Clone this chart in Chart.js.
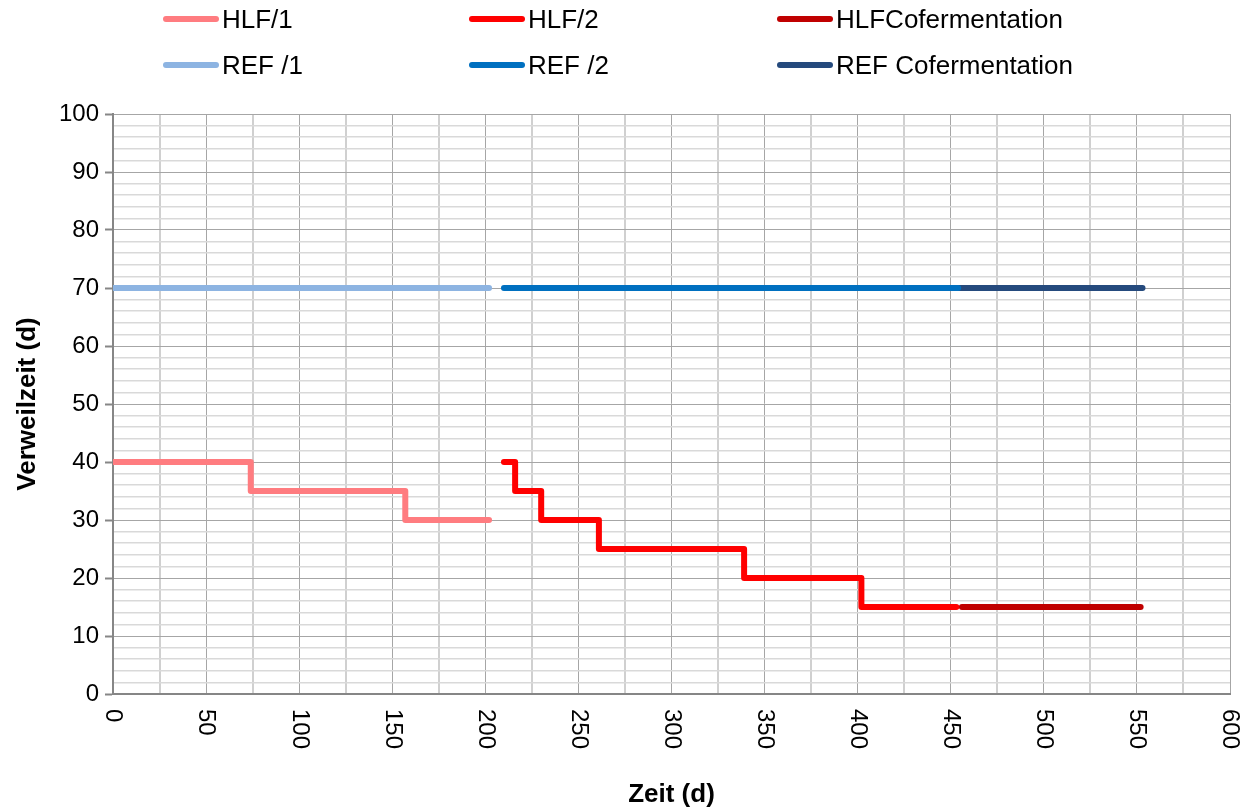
<!DOCTYPE html>
<html>
<head>
<meta charset="utf-8">
<script src="https://cdn.jsdelivr.net/npm/chart.js@4"></script>
<style>
  html, body { margin: 0; padding: 0; background: #fff; }
  #wrap { position: relative; width: 1255px; height: 809px; }
  #legend { position: absolute; left: 0; top: 0; width: 1255px; height: 100px; font-family: "Liberation Sans", Arial, sans-serif; font-size: 26px; color: #000; }
  .item { position: absolute; height: 30px; line-height: 30px; white-space: nowrap; }
  .item span.swatch { position: absolute; left: 0; top: 12px; width: 56px; height: 6px; border-radius: 3px; }
  .item span.txt { position: absolute; left: 59px; top: 0; }
</style>
</head>
<body>
<div id="wrap">
  <canvas id="chart" width="1255" height="809"></canvas>
  <div id="legend"></div>
</div>
<script>
// Series data (days / residence time in days)
const seriesNames = ['HLF/1', 'HLF/2', 'HLFCofermentation', 'REF /1', 'REF /2', 'REF Cofermentation'];
const seriesColors = ['#ff7c80', '#ff0000', '#c00000', '#8db4e2', '#0070c0', '#254a7d'];

const hlf1Days = [0, 74, 74, 157, 157, 202];
const hlf1Values = [40, 40, 35, 35, 30, 30];
const hlf2Days = [210, 216, 216, 230, 230, 261, 261, 339, 339, 402, 402, 453];
const hlf2Values = [40, 40, 35, 35, 30, 30, 25, 25, 20, 20, 15, 15];
const hlfCoDays = [456, 552];
const hlfCoValues = [15, 15];
const ref1Days = [0, 202];
const ref1Values = [70, 70];
const ref2Days = [210, 454];
const ref2Values = [70, 70];
const refCoDays = [454, 553];
const refCoValues = [70, 70];

const xTickLabels = [0, 50, 100, 150, 200, 250, 300, 350, 400, 450, 500, 550, 600];
const yTickLabels = [0, 10, 20, 30, 40, 50, 60, 70, 80, 90, 100];

function toPoints(xs, ys) {
    return xs.map((x, i) => ({ x: x, y: ys[i] }));
}

const allDays = [hlf1Days, hlf2Days, hlfCoDays, ref1Days, ref2Days, refCoDays];
const allValues = [hlf1Values, hlf2Values, hlfCoValues, ref1Values, ref2Values, refCoValues];

// Draw order: REF lines first, then HLF lines
const order = [3, 4, 5, 0, 1, 2];
const datasets = order.map(i => ({
    label: seriesNames[i],
    data: toPoints(allDays[i], allValues[i]),
    borderColor: seriesColors[i],
    backgroundColor: seriesColors[i],
    borderWidth: 6,
    borderCapStyle: 'round',
    borderJoinStyle: 'round',
    pointRadius: 0,
    tension: 0,
    fill: false
}));

// HTML legend, 3 columns x 2 rows
const legendPos = [[163, 4], [469, 4], [777, 4], [163, 50], [469, 50], [777, 50]];
const legendEl = document.getElementById('legend');
seriesNames.forEach((name, i) => {
    const d = document.createElement('div');
    d.className = 'item';
    d.style.left = legendPos[i][0] + 'px';
    d.style.top = legendPos[i][1] + 'px';
    d.innerHTML = '<span class="swatch" style="background:' + seriesColors[i] + '"></span><span class="txt">' + name + '</span>';
    legendEl.appendChild(d);
});

const fontFamily = '"Liberation Sans", Arial, sans-serif';

// Rotated x labels and axis titles
const textPlugin = {
    id: 'textPlugin',
    afterDraw(chart) {
        const c = chart.ctx;
        const xs = chart.scales.x;
        const ys = chart.scales.y;
        c.save();
        c.fillStyle = '#000';
        c.font = '24px ' + fontFamily;
        xTickLabels.forEach(v => {
            const px = xs.getPixelForValue(v);
            c.save();
            c.translate(px, ys.bottom + 15);
            c.rotate(Math.PI / 2);
            c.textAlign = 'left';
            c.textBaseline = 'middle';
            c.fillText(String(v), 0, 0);
            c.restore();
        });
        c.font = 'bold 26px ' + fontFamily;
        c.textAlign = 'center';
        c.textBaseline = 'middle';
        c.fillText('Zeit (d)', (xs.left + xs.right) / 2, 795);
        c.save();
        c.translate(28, (ys.top + ys.bottom) / 2);
        c.rotate(-Math.PI / 2);
        c.fillText('Verweilzeit (d)', 0, 0);
        c.restore();
        c.restore();
    }
};

const ctx = document.getElementById('chart').getContext('2d');
const chart = new Chart(ctx, {
    type: 'line',
    data: { datasets: datasets },
    options: {
        responsive: false,
        animation: false,
        layout: { padding: { left: 0, right: 25, top: 114, bottom: 0 } },
        plugins: {
            legend: { display: false },
            tooltip: { enabled: false }
        },
        scales: {
            x: {
                type: 'linear',
                min: 0,
                max: 600,
                ticks: { stepSize: 25, display: false, autoSkip: false },
                border: { color: '#868686', width: 2 },
                grid: {
                    drawTicks: false,
                    color: c => (c.tick && c.tick.value % 50 === 0) ? '#a6a6a6' : '#d0d0d0',
                    lineWidth: c => (c.tick && c.tick.value % 50 === 0) ? 1 : 2
                },
                afterFit: scale => { scale.height = 115; }
            },
            y: {
                min: 0,
                max: 100,
                ticks: {
                    stepSize: 2,
                    autoSkip: false,
                    padding: 6,
                    color: '#000',
                    font: { family: fontFamily, size: 24 },
                    callback: v => yTickLabels.includes(v) ? String(v) : ''
                },
                border: { color: '#868686', width: 2 },
                grid: {
                    tickLength: 8,
                    color: c => (c.tick && c.tick.value % 10 === 0) ? '#a6a6a6' : '#d9d9d9',
                    lineWidth: c => (c.tick && c.tick.value % 10 === 0) ? 1 : 1.5,
                    tickColor: c => (c.tick && c.tick.value % 10 === 0) ? '#868686' : 'rgba(0,0,0,0)',
                    tickWidth: 2
                },
                afterFit: scale => { scale.width = 113; }
            }
        }
    },
    plugins: [textPlugin]
});
</script>
</body>
</html>
